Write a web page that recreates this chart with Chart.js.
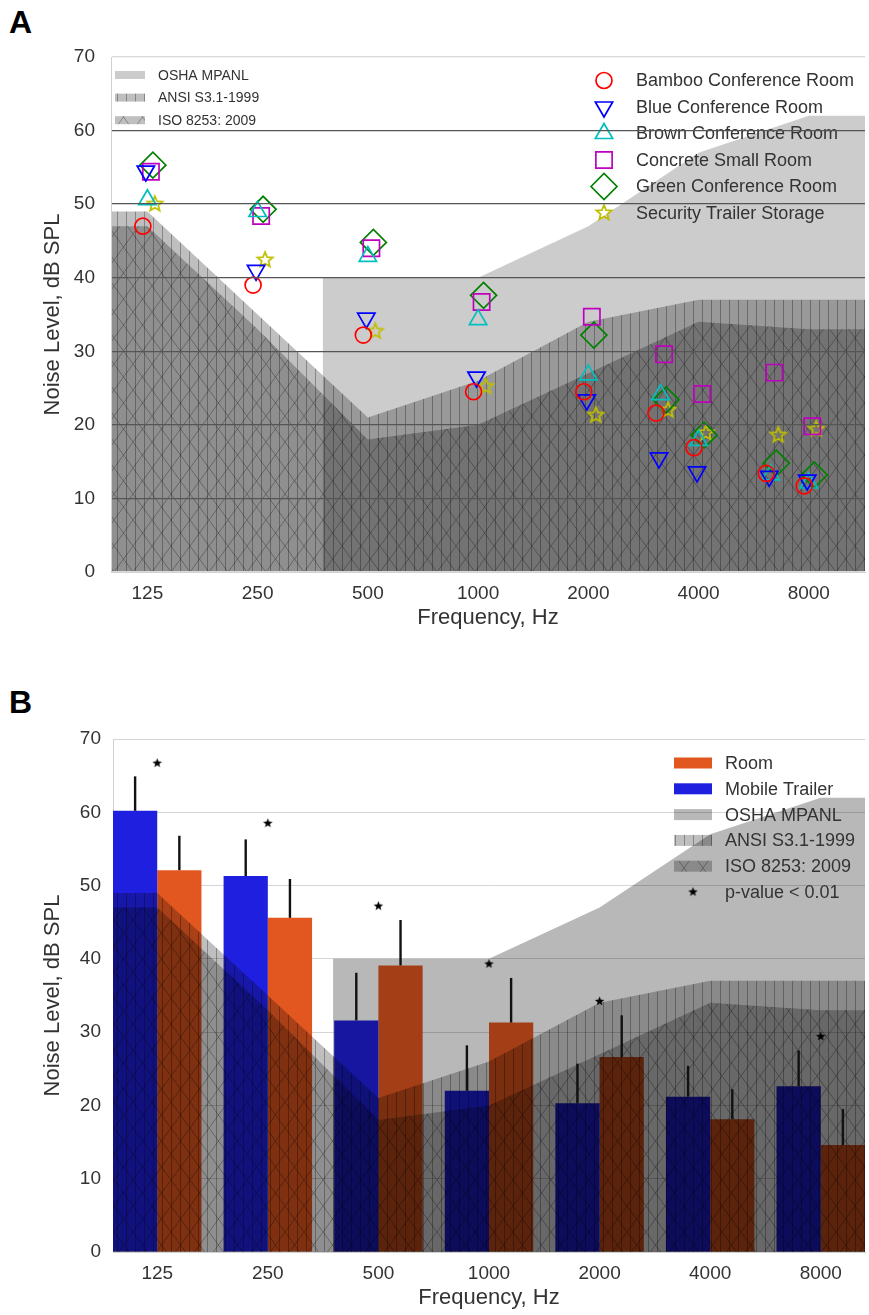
<!DOCTYPE html>
<html lang="en">
<head>
  <meta charset="UTF-8">
  <title>Noise levels vs. MPANL</title>
  <script src="https://cdn.jsdelivr.net/npm/chart.js"></script>
  <style>
    body {
      margin: 0;
      background: #fff;
      width: 869px;
      height: 1315px;
      position: relative;
      overflow: hidden;
      font-family: 'Liberation Sans', Arial, sans-serif;
    }
    .panel-label {
      position: absolute;
      left: 9px;
      font: bold 32px 'Liberation Sans', Arial, sans-serif;
      line-height: 1;
      color: #000;
    }
    .wrap { position: absolute; left: 0; width: 869px; }
    #wrapA { top: 0; height: 650px; }
    #wrapB { top: 660px; height: 655px; }
  </style>
</head>
<body>
  <div class="panel-label" style="top:6px">A</div>
  <div class="panel-label" style="top:686px">B</div>
  <div class="wrap" id="wrapA"><canvas id="chartA" width="869" height="650"></canvas></div>
  <div class="wrap" id="wrapB"><canvas id="chartB" width="869" height="655"></canvas></div>

  <script>
    // octave band tick labels (Hz)
    const octaveBands = [125, 250, 500, 1000, 2000, 4000, 8000];

    // panel A: measured rooms, frequencies of the measurements
    const roomFreqs = [125, 250, 500, 1000, 2000, 3150, 4000, 6300, 8000];
    const bambooRoom      = [47.0, 39.0, 32.2, 24.5, 24.5, 21.6, 16.9, 13.4, 11.7];
    const blueRoom        = [54.5, 41.0, 34.5, 26.5, 23.4, 15.5, 13.6, 13.0, 12.5];
    const brownRoom       = [50.6, 49.0, 42.9, 34.3, 26.8, 24.1, 17.9, 13.2, 12.1];
    const concreteRoom    = [54.4, 48.4, 44.0, 36.7, 34.7, 29.6, 24.2, 27.1, 19.8];
    const greenRoom       = [55.3, 49.3, 44.8, 37.6, 32.2, 23.4, 18.6, 14.8, 13.2];
    const securityStorage = [50.0, 42.4, 32.7, 25.2, 21.3, 22.0, 18.9, 18.6, 19.4];

    // maximum permissible ambient noise levels per octave band
    const oshaMpanl = [null, null, 40, 40, 47, 57, 62];
    const ansiS31   = [49, 35, 21, 26, 34, 37, 37];
    const iso8253   = [47, 33, 18, 20, 27, 34, 33];
    const oshaStart = 1.59; // OSHA band begins between 250 and 500 Hz

    // panel B: means and upper error
    const trailerMean = [60.2, 51.3, 31.6, 22.0, 20.3, 21.2, 22.6];
    const trailerErr  = [4.7, 5.0, 6.5, 6.2, 5.4, 4.2, 4.9];
    const roomMean    = [52.1, 45.6, 39.1, 31.3, 26.6, 18.1, 14.6];
    const roomErr     = [4.7, 5.3, 6.2, 6.1, 5.7, 4.1, 4.9];
    const pStarLevel  = [66.7, 58.5, 47.2, 39.3, 34.2, null, 29.4];

    const textColor = '#333';
    const tickFont = { family: "'Liberation Sans', Arial, sans-serif", size: 19 };
    const titleFont = { family: "'Liberation Sans', Arial, sans-serif", size: 22 };

    // ---- fill patterns ----
    function makePattern(w, h, base, lines) {
      const c = document.createElement('canvas');
      c.width = w; c.height = h;
      const g = c.getContext('2d');
      g.fillStyle = base;
      g.fillRect(0, 0, w, h);
      if (lines) {
        g.strokeStyle = 'rgba(0,0,0,0.3)';
        g.lineWidth = 1;
        g.beginPath();
        lines(g, w, h);
        g.stroke();
      }
      return g.createPattern(c, 'repeat');
    }
    const oshaFillA = makePattern(8, 8, 'rgba(0,0,0,0.2)');
    const oshaFillB = makePattern(8, 8, 'rgba(0,0,0,0.28)');
    const ansiFill = makePattern(9, 9, 'rgba(0,0,0,0.25)', (g, w, h) => {
      g.moveTo(0.5, 0); g.lineTo(0.5, h);
    });
    const isoFill = makePattern(19, 26, 'rgba(0,0,0,0.25)', (g, w, h) => {
      g.moveTo(0, 0); g.lineTo(w, h);
      g.moveTo(w, 0); g.lineTo(0, h);
    });

    function starImage(size, outer, inner, stroke, fill, lw) {
      const c = document.createElement('canvas');
      c.width = c.height = size;
      const g = c.getContext('2d');
      g.beginPath();
      for (let k = 0; k < 10; k++) {
        const r = k % 2 ? inner : outer;
        const a = -Math.PI / 2 + k * Math.PI / 5;
        const px = size / 2 + r * Math.cos(a), py = size / 2 + r * Math.sin(a);
        if (k) g.lineTo(px, py); else g.moveTo(px, py);
      }
      g.closePath();
      if (fill) { g.fillStyle = fill; g.fill(); }
      if (stroke) { g.strokeStyle = stroke; g.lineWidth = lw; g.stroke(); }
      return c;
    }
    const oliveStar = starImage(20, 8, 3.6, '#bfbf00', null, 1.8);
    const blackStar = starImage(11, 5, 2.1, null, '#000');

    // band outline: flat from the left edge (or start) to first value, flat to right edge
    function bandData(limits, start, xmax) {
      const pts = [];
      limits.forEach((v, i) => { if (v != null) pts.push({ x: i, y: v }); });
      pts.unshift({ x: start, y: pts[0].y });
      pts.push({ x: xmax, y: pts[pts.length - 1].y });
      return pts;
    }
    function bandDataset(label, pts, fill, order) {
      return {
        type: 'line', label: label, data: pts, fill: 'origin',
        backgroundColor: fill, borderWidth: 0, borderColor: 'rgba(0,0,0,0)',
        pointRadius: 0, tension: 0, order: order
      };
    }

    // ---- plugins ----
    function drawMarker(ctx, it, x, y) {
      ctx.save();
      ctx.strokeStyle = it.color;
      ctx.fillStyle = 'rgba(0,0,0,0)';
      ctx.lineWidth = it.lineWidth || 1.7;
      Chart.helpers.drawPoint(ctx, {
        pointStyle: it.pointStyle, rotation: it.rotation || 0,
        radius: it.radius, borderWidth: ctx.lineWidth
      }, x, y);
      ctx.restore();
    }

    const panelLegend = {
      id: 'panelLegend',
      afterDatasetsDraw(chart, args, opts) {
        const ctx = chart.ctx;
        (opts.groups || []).forEach(g => {
          ctx.save();
          ctx.font = g.font;
          ctx.textBaseline = 'middle';
          g.items.forEach((it, k) => {
            const y = g.y + k * g.gap;
            if (it.pointStyle) {
              drawMarker(ctx, it, g.x + g.boxW / 2, y);
            } else {
              ctx.fillStyle = it.fill;
              ctx.fillRect(g.x, y - g.boxH / 2, g.boxW, g.boxH);
            }
            ctx.fillStyle = textColor;
            ctx.fillText(it.label, g.textX, y + 1);
          });
          ctx.restore();
        });
      }
    };

    const errorBars = {
      id: 'errorBars',
      afterDatasetsDraw(chart) {
        const ctx = chart.ctx;
        const yScale = chart.scales.y;
        chart.data.datasets.forEach((ds, di) => {
          if (!ds.errors) return;
          chart.getDatasetMeta(di).data.forEach((bar, i) => {
            const top = yScale.getPixelForValue(ds.data[i].y + ds.errors[i]);
            ctx.save();
            ctx.strokeStyle = '#111';
            ctx.lineWidth = 2.4;
            ctx.beginPath();
            ctx.moveTo(bar.x, bar.y);
            ctx.lineTo(bar.x, top);
            ctx.stroke();
            ctx.restore();
          });
        });
      }
    };

    function octaveAxis(min, max, titlePad, height) {
      return {
        type: 'linear', min: min, max: max, offset: false,
        afterBuildTicks: axis => { axis.ticks = octaveBands.map((f, i) => ({ value: i })); },
        afterFit: axis => { axis.height = height; },
        grid: { display: false, drawTicks: false },
        border: { display: true, color: '#d0d0d0' },
        ticks: {
          padding: 10, color: textColor, font: tickFont, maxRotation: 0,
          callback: v => octaveBands[v]
        },
        title: { display: true, text: 'Frequency, Hz', color: textColor, font: titleFont, padding: { bottom: titlePad } }
      };
    }
    function levelAxis(width, tickPad, gridOpts, borderZ) {
      return {
        min: 0, max: 70,
        afterFit: axis => { axis.width = width; },
        grid: gridOpts,
        border: { display: true, color: '#d0d0d0', z: borderZ },
        ticks: { stepSize: 10, padding: tickPad, color: textColor, font: tickFont },
        title: { display: true, text: 'Noise Level, dB SPL', color: textColor, font: titleFont, padding: { top: 40 } }
      };
    }

    // ---- panel A ----
    const roomSeries = [
      { label: 'Bamboo Conference Room', values: bambooRoom, color: '#ff0000', pointStyle: 'circle', radius: 8, jitter: -0.041 },
      { label: 'Blue Conference Room', values: blueRoom, color: '#0000ff', pointStyle: 'triangle', rotation: 180, radius: 10, jitter: -0.014 },
      { label: 'Brown Conference Room', values: brownRoom, color: '#00bfbf', pointStyle: 'triangle', radius: 10, jitter: 0 },
      { label: 'Concrete Small Room', values: concreteRoom, color: '#bf00bf', pointStyle: 'rect', radius: 11.5, jitter: 0.032 },
      { label: 'Green Conference Room', values: greenRoom, color: '#008000', pointStyle: 'rectRot', radius: 13, jitter: 0.05 },
      { label: 'Security Trailer Storage', values: securityStorage, color: '#bfbf00', pointStyle: oliveStar, radius: 8, jitter: 0.068 }
    ];

    const xMinA = -0.33, xMaxA = 6.51;
    const datasetsA = roomSeries.map((s, k) => ({
      type: 'scatter',
      label: s.label,
      data: s.values.map((v, i) => ({ x: Math.log2(roomFreqs[i] / 125) + s.jitter, y: v })),
      pointStyle: s.pointStyle,
      rotation: s.rotation || 0,
      pointRadius: s.radius,
      borderColor: s.color,
      backgroundColor: 'rgba(0,0,0,0)',
      borderWidth: 1.7,
      order: k
    }));
    datasetsA.push(
      bandDataset('OSHA MPANL', bandData(oshaMpanl, oshaStart, xMaxA), oshaFillA, 20),
      bandDataset('ANSI S3.1-1999', bandData(ansiS31, xMinA, xMaxA), ansiFill, 21),
      bandDataset('ISO 8253: 2009', bandData(iso8253, xMinA, xMaxA), isoFill, 22)
    );

    new Chart(document.getElementById('chartA'), {
      type: 'scatter',
      data: { datasets: datasetsA },
      plugins: [panelLegend],
      options: {
        responsive: false,
        animation: false,
        devicePixelRatio: 1,
        layout: { autoPadding: false, padding: { top: 57, right: 4, left: 0, bottom: 0 } },
        plugins: {
          legend: { display: false },
          tooltip: { enabled: false },
          panelLegend: {
            groups: [
              {
                x: 115, y: 75, gap: 22.6, boxW: 30, boxH: 8, textX: 158,
                font: "14px 'Liberation Sans', Arial, sans-serif",
                items: [
                  { label: 'OSHA MPANL', fill: oshaFillA },
                  { label: 'ANSI S3.1-1999', fill: ansiFill },
                  { label: 'ISO 8253: 2009', fill: isoFill }
                ]
              },
              {
                x: 594, y: 80.5, gap: 26.5, boxW: 20, boxH: 0, textX: 636,
                font: "18px 'Liberation Sans', Arial, sans-serif",
                items: roomSeries
              }
            ]
          }
        },
        scales: {
          x: octaveAxis(xMinA, xMaxA, 19, 78),
          y: levelAxis(111, 16, {
            z: 1, drawTicks: false, lineWidth: 1.3,
            color: c => (c.tick && (c.tick.value === 0 || c.tick.value === 70)) ? '#d8d8d8' : '#555'
          }, 1)
        }
      }
    });

    // ---- panel B ----
    const xMinB = -0.4, xMaxB = 6.4;
    const datasetsB = [
      {
        type: 'bar', label: 'Mobile Trailer',
        data: trailerMean.map((v, i) => ({ x: i, y: v })),
        errors: trailerErr,
        backgroundColor: '#1f1fe0', borderWidth: 0,
        categoryPercentage: 0.8, barPercentage: 1, order: 30
      },
      {
        type: 'bar', label: 'Room',
        data: roomMean.map((v, i) => ({ x: i, y: v })),
        errors: roomErr,
        backgroundColor: '#e2561f', borderWidth: 0,
        categoryPercentage: 0.8, barPercentage: 1, order: 30
      },
      bandDataset('OSHA MPANL', bandData(oshaMpanl, oshaStart, xMaxB), oshaFillB, 20),
      bandDataset('ANSI S3.1-1999', bandData(ansiS31, xMinB, xMaxB), ansiFill, 21),
      bandDataset('ISO 8253: 2009', bandData(iso8253, xMinB, xMaxB), isoFill, 22),
      {
        type: 'scatter', label: 'p-value < 0.01',
        data: pStarLevel.map((v, i) => ({ x: i, y: v })).filter(p => p.y != null),
        pointStyle: blackStar, pointRadius: 5, order: 0
      }
    ];

    new Chart(document.getElementById('chartB'), {
      type: 'bar',
      data: { datasets: datasetsB },
      plugins: [panelLegend, errorBars],
      options: {
        responsive: false,
        animation: false,
        devicePixelRatio: 1,
        layout: { autoPadding: false, padding: { top: 79, right: 4, left: 0, bottom: 0 } },
        plugins: {
          legend: { display: false },
          tooltip: { enabled: false },
          panelLegend: {
            groups: [{
              x: 674, y: 103, gap: 25.8, boxW: 38, boxH: 11, textX: 725,
              font: "18px 'Liberation Sans', Arial, sans-serif",
              items: [
                { label: 'Room', fill: '#e2561f' },
                { label: 'Mobile Trailer', fill: '#1f1fe0' },
                { label: 'OSHA MPANL', fill: oshaFillB },
                { label: 'ANSI S3.1-1999', fill: ansiFill },
                { label: 'ISO 8253: 2009', fill: isoFill },
                { label: 'p-value < 0.01', pointStyle: blackStar, radius: 5, color: '#000' }
              ]
            }]
          }
        },
        scales: {
          x: octaveAxis(xMinB, xMaxB, 4, 63),
          y: levelAxis(113, 12, { drawTicks: false, color: '#d5d5d5', lineWidth: 1 }, 0)
        }
      }
    });
  </script>
</body>
</html>
